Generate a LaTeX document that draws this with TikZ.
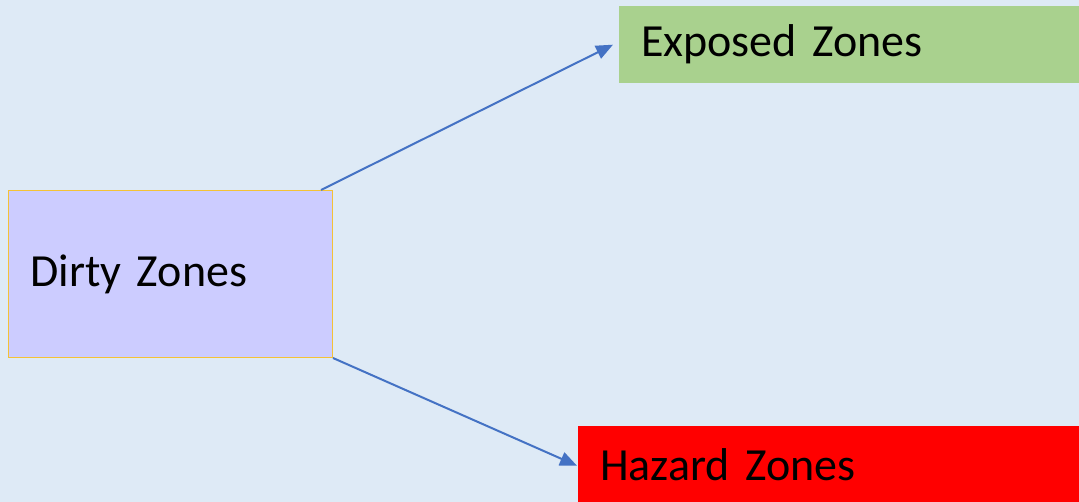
\documentclass[tikz,border=0pt]{standalone}
\usepackage{fontspec}
\setmainfont{Carlito}
\usetikzlibrary{arrows.meta}
\definecolor{bg}{HTML}{DEEAF6}
\definecolor{dirtyfill}{HTML}{CCCCFF}
\definecolor{dirtyline}{HTML}{F4C236}
\definecolor{greenfill}{HTML}{A9D18E}
\definecolor{redfill}{HTML}{FF0000}
\definecolor{arrowblue}{HTML}{4472C4}
\begin{document}
\begin{tikzpicture}[x=1pt,y=-1pt,
  zonebox/.style={anchor=north west, inner xsep=22pt, inner ysep=0pt, align=left,
    font=\fontsize{46}{50}\selectfont, text=black},
  link/.style={draw=arrowblue, line width=2pt, -{Triangle[length=17pt,width=14pt]}}]
\useasboundingbox[fill=bg] (0,0) rectangle (1079,502);
\node[zonebox, fill=dirtyfill, draw=dirtyline, line width=1pt,
  text width=280pt, minimum height=167pt] (dirty) at (8,190) {Dirty Zones};
\node[zonebox, fill=greenfill, text width=416pt, minimum height=77pt] (exposed) at (619,6) {Exposed Zones};
\node[zonebox, fill=redfill, text width=457pt, minimum height=77pt] (hazard) at (578,426) {Hazard Zones};
\coordinate (s1) at ([xshift=-12pt]dirty.north east);
\coordinate (e1) at ([xshift=-6pt]exposed.west);
\coordinate (e2) at ([xshift=-1pt,yshift=-1pt]hazard.west);
\draw[link] (s1) -- (e1);
\draw[link] (dirty.south east) -- (e2);
\end{tikzpicture}
\end{document}
